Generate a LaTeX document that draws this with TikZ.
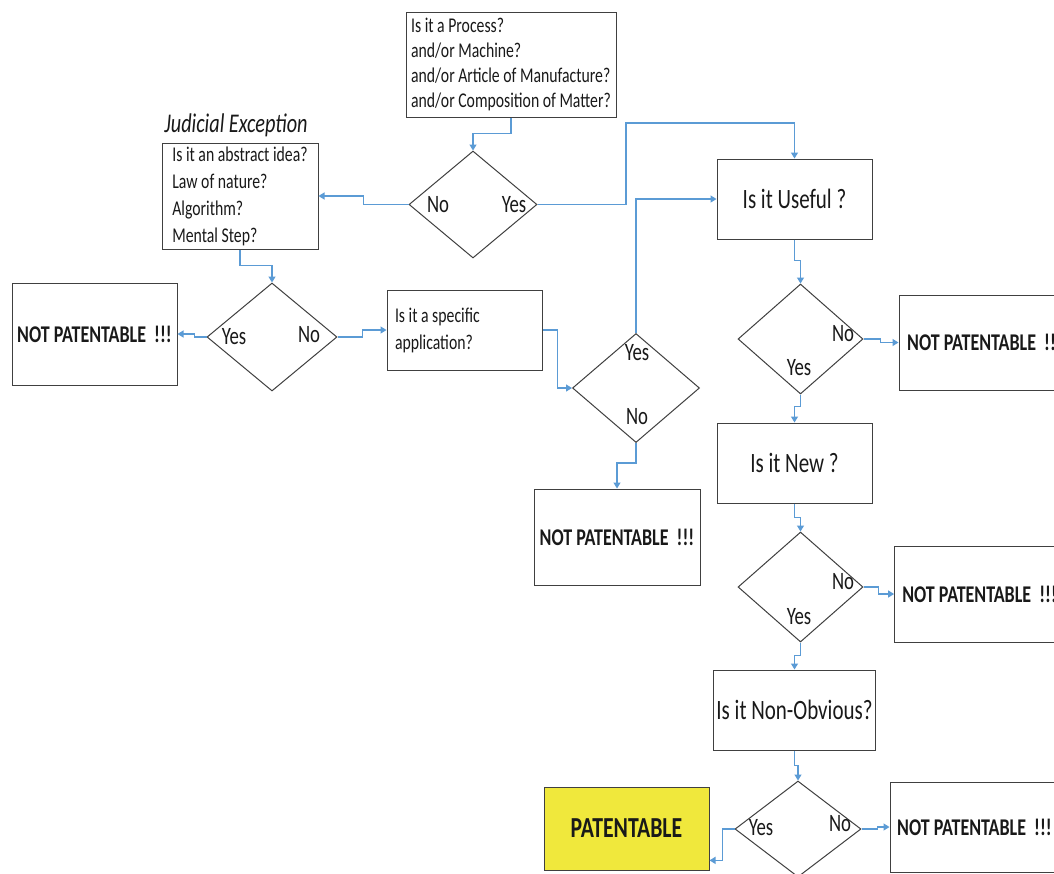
\documentclass[tikz,border=0pt]{standalone}
\usepackage{fontspec}
\setmainfont{Carlito}[FakeStretch=0.75]
\usepackage{tikz}
\usetikzlibrary{arrows.meta}
\usetikzlibrary{shapes.geometric}
\definecolor{flowblue}{HTML}{5B9BD5}
\definecolor{boxgray}{HTML}{404040}
\definecolor{patyellow}{HTML}{F0E83C}

\begin{document}
\begin{tikzpicture}[x=1pt,y=-1pt,every node/.style={text=black!90},
    qbox/.style={draw=boxgray,line width=1pt,minimum width=155pt,minimum height=80pt,font=\fontsize{28}{32}\selectfont},
    listbox/.style={draw=boxgray,line width=1pt,align=left,inner xsep=5pt,font=\fontsize{21}{25}\selectfont},
    endbox/.style={draw=boxgray,line width=1pt,minimum height=96pt,font=\bfseries\fontsize{24}{28}\selectfont},
    decision/.style={diamond,draw=boxgray,line width=1pt,inner sep=0pt},
    answer/.style={inner sep=0pt,font=\fontsize{25}{28}\selectfont},
    flow/.style={draw=flowblue,line width=1.2pt,-{Triangle[width=7pt,length=6pt]}}]
    \useasboundingbox[fill=white] (0,0) rectangle (1054,873);
    \node[listbox,minimum width=210pt,minimum height=105pt] (topq) at (511,64.5) {Is it a Process?\\and/or Machine?\\and/or Article of Manufacture?\\and/or Composition of Matter?};
    \node[font=\itshape\fontsize{27}{30}\selectfont] (judlabel) at (236,125) {Judicial Exception};
    \node[listbox,minimum width=156pt,minimum height=106pt,font=\fontsize{21}{27}\selectfont] (jud) at (240,196) {Is it an abstract idea?\\Law of nature?\\Algorithm?\\Mental Step?};
    \node[listbox,text width=139pt,inner xsep=8pt,align=flush left,minimum height=80pt,font=\fontsize{21}{27}\selectfont] (spec) at (464.5,330) {Is it a specific\\application?};
    \node[decision,minimum width=128pt,minimum height=107pt] (d1) at (473,204.5) {};
    \node[decision,minimum width=130pt,minimum height=108pt] (d2) at (272,337) {};
    \node[decision,minimum width=127pt,minimum height=109pt] (d3) at (636,388) {};
    \node[decision,minimum width=125pt,minimum height=110pt] (d4) at (800.5,339) {};
    \node[decision,minimum width=125pt,minimum height=110pt] (d5) at (800.5,587) {};
    \node[decision,minimum width=126pt,minimum height=96pt] (d6) at (798,829) {};
    \node[answer] (d1no) at (438,205) {No};
    \node[answer] (d1yes) at (514,205) {Yes};
    \node[answer] (d2yes) at (234,337) {Yes};
    \node[answer] (d2no) at (309,335) {No};
    \node[answer] (d3yes) at (637,353) {Yes};
    \node[answer] (d3no) at (637,417) {No};
    \node[answer] (d4no) at (843,334) {No};
    \node[answer] (d4yes) at (799,368) {Yes};
    \node[answer] (d5no) at (843,582) {No};
    \node[answer] (d5yes) at (799,617) {Yes};
    \node[answer] (d6yes) at (761,828) {Yes};
    \node[answer] (d6no) at (840,824) {No};
    \node[qbox] (useful) at (794.5,199) {Is it Useful ?};
    \node[qbox] (new) at (794.5,463) {Is it New ?};
    \node[qbox] (nonob) at (794.5,710) {Is it Non-Obvious?};
    \node[endbox,minimum width=165pt,minimum height=102pt] (np1) at (94.5,334) {NOT PATENTABLE~ !!!};
    \node[endbox,minimum width=166pt] (np2) at (617,537) {NOT PATENTABLE~ !!!};
    \node[endbox,minimum width=171pt,minimum height=95pt] (np3) at (984.5,342.5) {NOT PATENTABLE~ !!!};
    \node[endbox,minimum width=170pt] (np4) at (979.6,594) {NOT PATENTABLE~ !!!};
    \node[endbox,minimum width=169pt,minimum height=90pt] (np5) at (974.5,827) {NOT PATENTABLE~ !!!};
    \node[endbox,fill=patyellow,minimum width=165pt,minimum height=83pt,font=\bfseries\fontsize{29}{32}\selectfont] (pat) at (626.5,828.5) {PATENTABLE};
    \coordinate (bend1) at (626,123);
    \draw[flow] (topq.south) -- ++(0,16) -| (d1.north);
    \draw[flow] (d1.west) -- ++(-45,0) |- (jud.east);
    \draw[flow] (d1.east) -| (bend1) -| (useful.north);
    \draw[flow] (jud.south) -- ++(0,16) -| (d2.north);
    \draw[flow] (d2.west) -- ++(-12,0) |- (np1.east);
    \draw[flow] (d2.east) -- ++(25,0) |- (spec.west);
    \draw[flow] (spec.east) -- ++(15,0) |- (d3.west);
    \draw[flow] (d3.north) |- (useful.west);
    \draw[flow] (d3.south) -- ++(0,20) -| (np2.north);
    \draw[flow] (useful.south) -- ++(0,21) -| (d4.north);
    \draw[flow] (d4.east) -- ++(17,0) |- (np3.west);
    \draw[flow] (d4.south) -- ++(0,12) -| (new.north);
    \draw[flow] (new.south) -- ++(0,14) -| (d5.north);
    \draw[flow] (d5.east) -- ++(15,0) |- (np4.west);
    \draw[flow] (d5.south) -- ++(0,13) -| (nonob.north);
    \draw[flow] (nonob.south) -- ++(0,15) -| (d6.north);
    \draw[flow] (d6.west) -- ++(-12,0) |- (pat.-21);
    \draw[flow] (d6.east) -- ++(16,0) |- (np5.west);
\end{tikzpicture}
\end{document}
